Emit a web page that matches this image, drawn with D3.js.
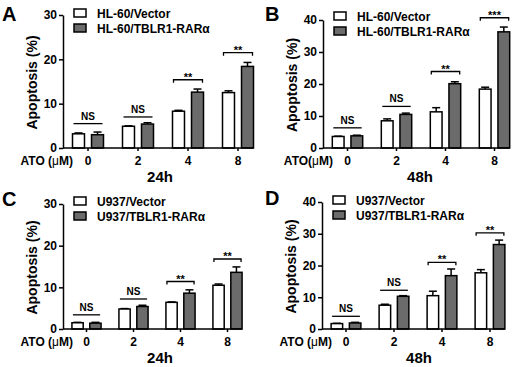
<!DOCTYPE html>
<html>
<head>
<meta charset="utf-8">
<script src="https://cdn.jsdelivr.net/npm/d3@7"></script>
<style>
  body { margin: 0; background: #fff; }
  svg { display: block; font-family: "Liberation Sans", Arial, sans-serif; font-weight: bold; }
</style>
</head>
<body>
<svg width="520" height="367"></svg>
<script>
// ATO doses on the x axis
const doses = ['0', '2', '4', '8'];

// legend names
const hlSeries = ['HL-60/Vector', 'HL-60/TBLR1-RARα'];
const uSeries = ['U937/Vector', 'U937/TBLR1-RARα'];

// A: HL-60, 24h
const aVector = [3.2, 4.9, 8.3, 12.5];
const aVectorErr = [0.2, 0.1, 0.2, 0.4];
const aFusion = [3.0, 5.4, 12.6, 18.4];
const aFusionErr = [0.6, 0.3, 0.7, 0.9];
const aSig = ['NS', 'NS', '**', '**'];
const aSigAt = [5.5, 7.0, 15.4, 21.5];

// B: HL-60, 48h
const bVector = [3.6, 8.5, 11.3, 18.4];
const bVectorErr = [0.1, 0.6, 1.3, 0.6];
const bFusion = [3.8, 10.5, 20.1, 36.3];
const bFusionErr = [0.2, 0.4, 0.6, 1.5];
const bSig = ['NS', 'NS', '**', '***'];
const bSigAt = [6.3, 13.0, 23.9, 40.7];

// C: U937, 24h
const cVector = [1.5, 4.8, 6.4, 10.5];
const cVectorErr = [0.1, 0.1, 0.1, 0.3];
const cFusion = [1.4, 5.4, 8.6, 13.6];
const cFusionErr = [0.2, 0.3, 0.8, 1.3];
const cSig = ['NS', 'NS', '**', '**'];
const cSigAt = [3.4, 7.2, 11.4, 16.8];

// D: U937, 48h
const dVector = [1.7, 7.5, 10.5, 17.7];
const dVectorErr = [0.1, 0.3, 1.4, 1.0];
const dFusion = [1.9, 10.3, 16.8, 26.6];
const dFusionErr = [0.2, 0.2, 2.1, 1.4];
const dSig = ['NS', 'NS', '**', '**'];
const dSigAt = [4.0, 12.2, 21.0, 30.3];

const ticks30 = [0, 10, 20, 30];
const ticks40 = [0, 10, 20, 30, 40];

const panels = [
  {letter: 'A', lx: 2, ly: 21, x0: 63, y0: 148, yTop: 15, ticks: ticks30, step: 50, legY: 18,
   names: hlSeries, vec: aVector, vecErr: aVectorErr, fus: aFusion, fusErr: aFusionErr,
   sig: aSig, sigAt: aSigAt, ato: 'ATO (', time: '24h'},
  {letter: 'B', lx: 265, ly: 21, x0: 323, y0: 148, yTop: 20, ticks: ticks40, step: 49, legY: 21,
   names: hlSeries, vec: bVector, vecErr: bVectorErr, fus: bFusion, fusErr: bFusionErr,
   sig: bSig, sigAt: bSigAt, ato: 'ATO(', time: '48h'},
  {letter: 'C', lx: 2, ly: 206, x0: 63, y0: 329, yTop: 204, ticks: ticks30, step: 47, legY: 206,
   names: uSeries, vec: cVector, vecErr: cVectorErr, fus: cFusion, fusErr: cFusionErr,
   sig: cSig, sigAt: cSigAt, ato: 'ATO (', time: '24h'},
  {letter: 'D', lx: 265, ly: 205, x0: 322, y0: 329, yTop: 202, ticks: ticks40, step: 48, legY: 205,
   names: uSeries, vec: dVector, vecErr: dVectorErr, fus: dFusion, fusErr: dFusionErr,
   sig: dSig, sigAt: dSigAt, ato: 'ATO (', time: '48h'}
];

const svg = d3.select('svg');
svg.append('rect').attr('width', 520).attr('height', 367).attr('fill', '#fff');

const darkFill = '#6b6b6b';

panels.forEach(p => {
  const g = svg.append('g');
  const yMax = p.ticks[p.ticks.length - 1];

  const x = d3.scaleBand()
    .domain(doses)
    .range([p.x0, p.x0 + p.step * 4])
    .paddingInner(0.38)
    .paddingOuter(0.19);

  const xs = d3.scaleBand()
    .domain(['vec', 'fus'])
    .range([0, x.bandwidth()])
    .paddingInner(0.37);

  const y = d3.scaleLinear().domain([0, yMax]).range([p.y0, p.yTop]);

  const rows = doses.map((d, i) => ({
    dose: d,
    bars: [
      {key: 'vec', v: p.vec[i], e: p.vecErr[i]},
      {key: 'fus', v: p.fus[i], e: p.fusErr[i]}
    ],
    sig: p.sig[i],
    sigAt: p.sigAt[i]
  }));

  // bars
  const grp = g.selectAll('g.dose')
    .data(rows)
    .join('g')
    .attr('class', 'dose')
    .attr('transform', d => `translate(${x(d.dose)},0)`);

  // error bars (upper only)
  grp.selectAll('g.err')
    .data(d => d.bars)
    .join('g')
    .attr('class', 'err')
    .attr('stroke', '#000')
    .attr('stroke-width', 1.5)
    .each(function(b) {
      const cx = xs(b.key) + xs.bandwidth() / 2;
      const el = d3.select(this);
      el.append('line')
        .attr('x1', cx).attr('x2', cx)
        .attr('y1', y(b.v)).attr('y2', y(b.v + b.e));
      el.append('line')
        .attr('x1', cx - 4).attr('x2', cx + 4)
        .attr('y1', y(b.v + b.e)).attr('y2', y(b.v + b.e));
    });

  grp.selectAll('rect')
    .data(d => d.bars)
    .join('rect')
    .attr('x', b => xs(b.key))
    .attr('y', b => y(b.v))
    .attr('width', xs.bandwidth())
    .attr('height', b => y(0) - y(b.v))
    .attr('fill', b => b.key === 'vec' ? '#fff' : darkFill)
    .attr('stroke', '#000')
    .attr('stroke-width', 1.5);

  // significance marks
  grp.each(function(d) {
    const el = d3.select(this);
    const ly = y(d.sigAt);
    const x1 = xs('vec') + 1;
    const x2 = xs('fus') + xs.bandwidth() - 1;
    const ns = d.sig === 'NS';
    el.append('path')
      .attr('d', ns ? `M${x1},${ly}H${x2}` : `M${x1},${ly + 3}V${ly}H${x2}V${ly + 3}`)
      .attr('fill', 'none')
      .attr('stroke', '#000')
      .attr('stroke-width', 1.3);
    el.append('text')
      .attr('x', (x1 + x2) / 2)
      .attr('y', ns ? ly - 4 : ly + 1)
      .attr('text-anchor', 'middle')
      .attr('font-size', ns ? 10 : 11)
      .text(d.sig);
  });

  // y axis
  const yAxis = g.append('g')
    .attr('transform', `translate(${p.x0},0)`)
    .call(d3.axisLeft(y).tickValues(p.ticks).tickSize(4).tickSizeOuter(0).tickPadding(2));
  yAxis.selectAll('path, line').attr('stroke', '#000').attr('stroke-width', 1.5);
  yAxis.selectAll('text')
    .attr('font-family', 'Liberation Sans, Arial, sans-serif')
    .attr('font-weight', 'bold')
    .attr('font-size', 12)
    .attr('fill', '#000');

  // x axis: line to the end of the last bar, small ticks at dose centres
  const xEnd = x(doses[doses.length - 1]) + x.bandwidth();
  g.append('line')
    .attr('x1', p.x0).attr('x2', xEnd)
    .attr('y1', p.y0).attr('y2', p.y0)
    .attr('stroke', '#000').attr('stroke-width', 1.5);
  g.selectAll('line.xt')
    .data(doses)
    .join('line')
    .attr('class', 'xt')
    .attr('x1', d => x(d) + x.bandwidth() / 2)
    .attr('x2', d => x(d) + x.bandwidth() / 2)
    .attr('y1', p.y0).attr('y2', p.y0 + 3)
    .attr('stroke', '#000').attr('stroke-width', 1.5);
  g.selectAll('text.xl')
    .data(doses)
    .join('text')
    .attr('class', 'xl')
    .attr('x', d => x(d) + x.bandwidth() / 2)
    .attr('y', p.y0 + 17)
    .attr('text-anchor', 'middle')
    .attr('font-size', 12)
    .text(d => d);

  const ato = g.append('text')
    .attr('x', p.x0 + 10)
    .attr('y', p.y0 + 17)
    .attr('text-anchor', 'end')
    .attr('font-size', 12);
  ato.append('tspan').text(p.ato);
  ato.append('tspan').attr('font-weight', 'normal').text('μ');
  ato.append('tspan').text('M)');

  g.append('text')
    .attr('x', p.x0 + 97)
    .attr('y', p.y0 + 34)
    .attr('text-anchor', 'middle')
    .attr('font-size', 15)
    .text(p.time);

  // y title
  g.append('text')
    .attr('transform', `translate(${p.x0 - 26},${(p.y0 + p.yTop) / 2 + 1}) rotate(-90)`)
    .attr('text-anchor', 'middle')
    .attr('font-size', 14)
    .text('Apoptosis (%)');

  // panel letter
  g.append('text')
    .attr('x', p.lx)
    .attr('y', p.ly)
    .attr('font-size', 20)
    .text(p.letter);

  // legend
  const leg = g.selectAll('g.leg')
    .data(p.names)
    .join('g')
    .attr('class', 'leg')
    .attr('transform', (d, i) => `translate(${p.x0 + 11},${p.legY + i * 15})`);
  leg.append('rect')
    .attr('x', 0).attr('y', -9)
    .attr('width', 12).attr('height', 8)
    .attr('fill', (d, i) => i === 0 ? '#fff' : darkFill)
    .attr('stroke', '#000')
    .attr('stroke-width', 1.5);
  leg.append('text')
    .attr('x', 23)
    .attr('y', 0)
    .attr('font-size', 12)
    .text(d => d);
});
</script>
</body>
</html>
